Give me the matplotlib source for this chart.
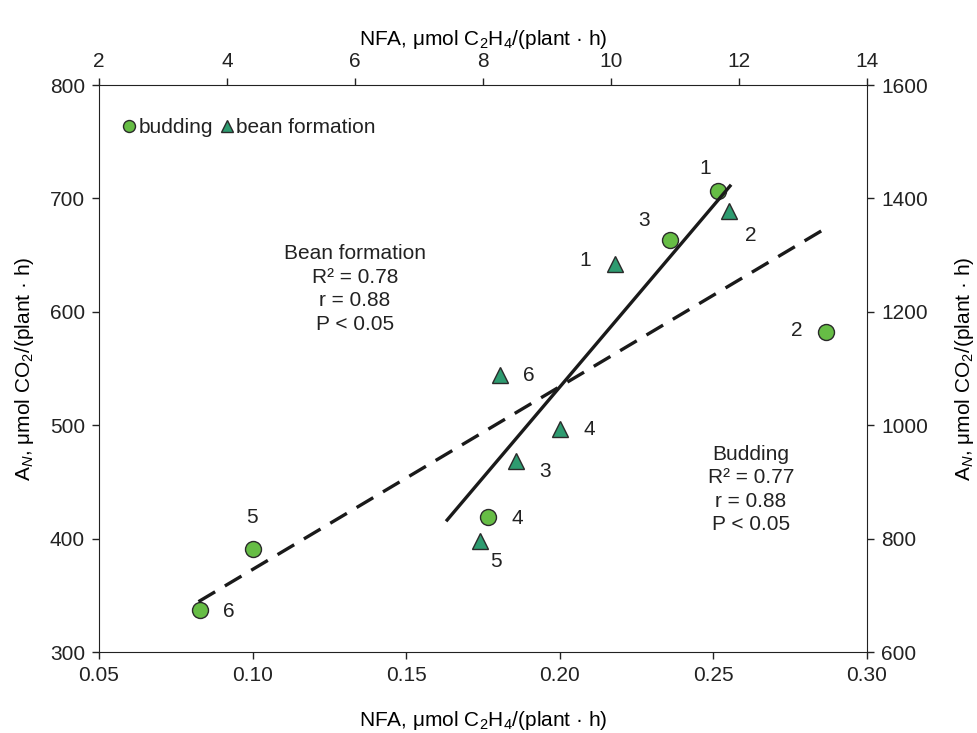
import matplotlib
matplotlib.use("Agg")
import matplotlib.pyplot as plt

plt.rcParams.update({
    "font.family": ["Liberation Sans", "DejaVu Sans"],
    "font.size": 15,
    "mathtext.fontset": "custom",
    "mathtext.rm": "Liberation Sans",
    "mathtext.it": "Liberation Sans:italic",
    "mathtext.bf": "Liberation Sans:bold",
    "text.color": "#222222",
    "axes.edgecolor": "#222222",
    "xtick.color": "#222222",
    "ytick.color": "#222222",
})

# Budding (bottom / left axes): NFA per unit, A_N
bud_ids = ["1", "2", "3", "4", "5", "6"]
bud_nfa = [0.2515, 0.2866, 0.2359, 0.1766, 0.1001, 0.0829]
bud_an = [706.8, 582.4, 663.3, 418.8, 390.8, 337.0]
bud_fit_x = [0.0824, 0.2856]
bud_fit_y = [344.4, 672.1]

# Bean formation (top / right axes)
bean_ids = ["1", "2", "3", "4", "5", "6"]
bean_nfa = [10.06, 11.84, 8.52, 9.20, 7.95, 8.26]
bean_an = [1283.8, 1378.3, 937.4, 992.8, 795.8, 1088.5]
bean_fit_x = [7.44, 11.86]
bean_fit_y = [832.8, 1421.9]

bud_label_off = {"1": (-9, 16), "2": (-21, 1), "3": (-19, 14),
                 "4": (21, -1), "5": (-1, 23), "6": (21, -1)}
bean_label_off = {"1": (-21, 3), "2": (16, -18), "3": (21, -8),
                  "4": (21, 0), "5": (12, -15), "6": (21, 0)}

xlab = r"NFA, μmol C$_2$H$_4$/(plant · h)"
ylab = r"A$_N$, μmol CO$_2$/(plant · h)"

c_bud = "#66BD45"
c_bean = "#2E9B70"
c_edge = "#2a2a2a"
fs = 15

fig = plt.figure(figsize=(9.77, 7.33), dpi=100)
pos = [0.1013, 0.1105, 0.7861, 0.7735]
ax = fig.add_axes(pos)
ax2 = fig.add_axes(pos, frameon=False)

# --- budding, primary axes ---
ax.plot(bud_fit_x, bud_fit_y, color="#1a1a1a", lw=2.4,
        linestyle=(0, (5.8, 3.4)), solid_capstyle="butt", zorder=4)
ax.plot(bud_nfa, bud_an, "o", ms=11.5, mfc=c_bud, mec=c_edge, mew=1.0,
        zorder=3, label="budding")
for i, x, y in zip(bud_ids, bud_nfa, bud_an):
    ax.annotate(i, (x, y), textcoords="offset points", xytext=bud_label_off[i],
                ha="center", va="center", fontsize=fs)

ax.set_xlim(0.05, 0.30)
ax.set_ylim(300, 800)
ax.set_xticks([0.05, 0.10, 0.15, 0.20, 0.25, 0.30])
ax.set_xticklabels(["0.05", "0.10", "0.15", "0.20", "0.25", "0.30"])
ax.set_yticks(range(300, 801, 100))
ax.tick_params(direction="out", length=5, width=1, pad=5, labelsize=fs)
ax.set_xlabel(xlab, fontsize=fs, labelpad=17)
ax.set_ylabel(ylab, fontsize=fs, labelpad=10)

# --- bean formation, top/right axes ---
ax2.plot(bean_fit_x, bean_fit_y, color="#1a1a1a", lw=2.4, zorder=4)
ax2.plot(bean_nfa, bean_an, "^", ms=12, mfc=c_bean, mec=c_edge, mew=1.0,
         zorder=3, label="bean formation")
for i, x, y in zip(bean_ids, bean_nfa, bean_an):
    ax2.annotate(i, (x, y), textcoords="offset points", xytext=bean_label_off[i],
                 ha="center", va="center", fontsize=fs)

ax2.set_xlim(2, 14)
ax2.set_ylim(600, 1600)
ax2.set_xticks(range(2, 15, 2))
ax2.set_yticks(range(600, 1601, 200))
ax2.xaxis.tick_top()
ax2.yaxis.tick_right()
ax2.xaxis.set_label_position("top")
ax2.yaxis.set_label_position("right")
ax2.tick_params(direction="out", length=5, width=1, pad=5, labelsize=fs)
ax2.set_xlabel(xlab, fontsize=fs, labelpad=5)
ax2.set_ylabel(ylab, fontsize=fs, labelpad=18)

# legend
h1, l1 = ax.get_legend_handles_labels()
h2, l2 = ax2.get_legend_handles_labels()
leg = ax2.legend(h1 + h2, l1 + l2, loc="upper left", ncol=2, frameon=False,
                 handletextpad=-0.1, columnspacing=0.1, handlelength=1.1,
                 borderaxespad=0.5, fontsize=fs, markerscale=0.75,
                 bbox_to_anchor=(0.0, 0.975))

ax.text(0.333, 0.640, "Bean formation\nR² = 0.78\nr = 0.88\nP < 0.05",
        transform=ax.transAxes, ha="center", va="center", fontsize=fs,
        linespacing=1.3)
ax.text(0.849, 0.287, "Budding\nR² = 0.77\nr = 0.88\nP < 0.05",
        transform=ax.transAxes, ha="center", va="center", fontsize=fs,
        linespacing=1.3)

fig.savefig("out.png", dpi=100)
